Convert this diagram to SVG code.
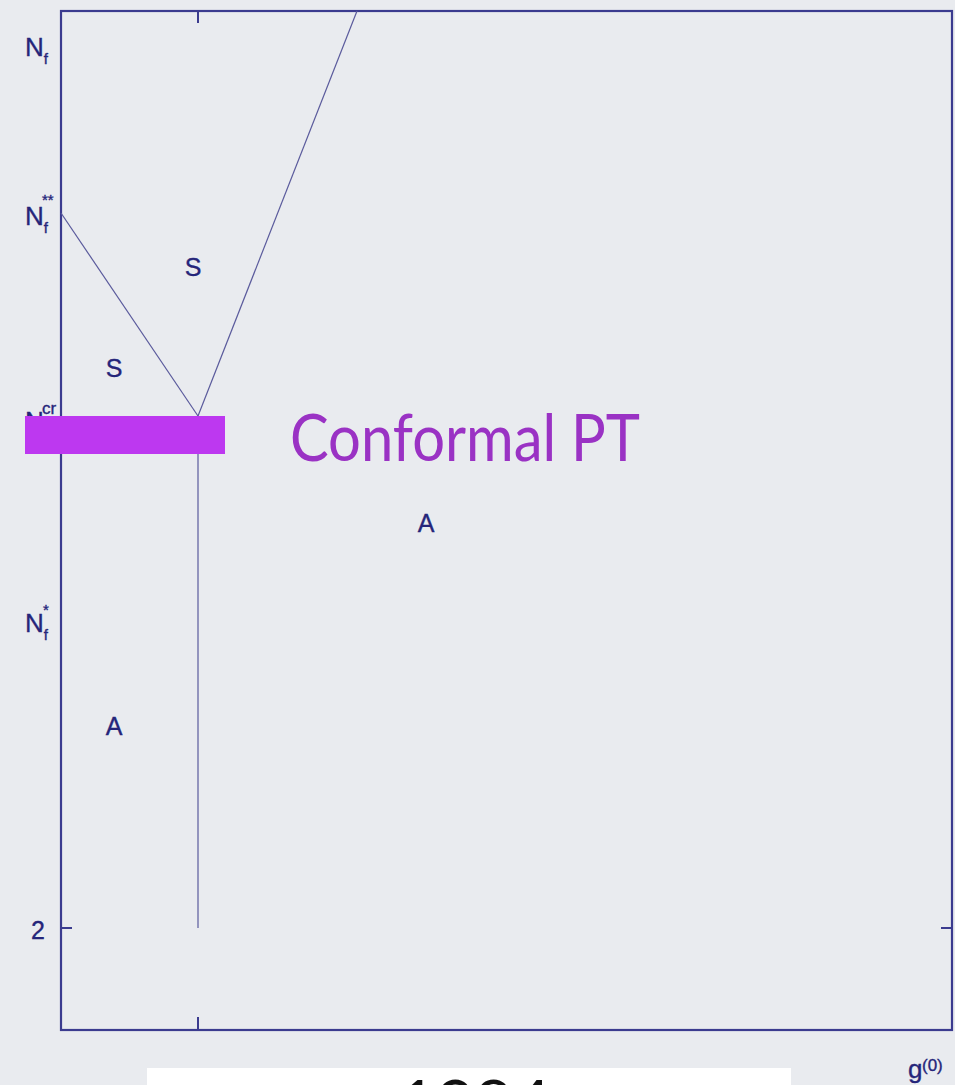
<svg xmlns="http://www.w3.org/2000/svg" width="955" height="1085" viewBox="0 0 955 1085">
  <style>
    .frame { fill: none; stroke: #3b3b8f; stroke-width: 2.2; }
    .tick { stroke: #3b3b8f; stroke-width: 2; }
    .curve { fill: none; stroke: #5a5a9c; stroke-width: 1.2; }
    .lbl { font-family: "Liberation Sans", Arial, sans-serif; fill: #25257a; stroke: #25257a; stroke-width: 0.35; }
    .region { font-size: 25px; text-anchor: middle; }
    .axis { font-size: 26px; }
    .sub { font-size: 15px; }
    .big { font-family: Lato, "Open Sans", sans-serif; }
  </style>

  <!-- background -->
  <rect x="0" y="0" width="955" height="1085" fill="#e9ebef"/>

  <!-- plot frame and ticks -->
  <g id="axes">
    <rect class="frame" x="61" y="11" width="891" height="1019"/>
    <line class="tick" x1="198" y1="11" x2="198" y2="23"/>
    <line class="tick" x1="198" y1="1030" x2="198" y2="1017"/>
    <line class="tick" x1="61" y1="928" x2="72" y2="928"/>
    <line class="tick" x1="952" y1="928" x2="941" y2="928"/>
  </g>

  <!-- phase boundaries -->
  <g id="connectors">
    <line class="curve" x1="61" y1="213" x2="198" y2="416"/>
    <line class="curve" x1="198" y1="416" x2="357" y2="11"/>
    <line class="curve" x1="198" y1="416" x2="198" y2="928"/>
  </g>

  <!-- y-axis labels -->
  <g id="ylabel-nf">
    <text class="lbl axis" x="25" y="56">N<tspan class="sub" dy="8">f</tspan></text>
  </g>
  <g id="ylabel-nf2star">
    <text class="lbl axis" x="25" y="225">N<tspan class="sub" dy="8">f</tspan></text>
    <text class="lbl sub" x="42" y="205">**</text>
  </g>
  <g id="ylabel-ncr">
    <text class="lbl axis" x="25" y="430">N</text>
    <text class="lbl sub" x="42" y="414" style="font-size:17px">cr</text>
  </g>
  <g id="ylabel-nfstar">
    <text class="lbl axis" x="25" y="632">N<tspan class="sub" dy="8">f</tspan></text>
    <text class="lbl sub" x="43" y="615">*</text>
  </g>
  <g id="ylabel-2">
    <text class="lbl axis" x="38" y="939" text-anchor="middle" style="font-size:25px">2</text>
  </g>
  <g id="xlabel-g0">
    <text class="lbl" x="908" y="1078" style="font-size:26px">g</text>
    <text class="lbl" x="922" y="1071" style="font-size:17px">(0)</text>
  </g>

  <!-- region labels -->
  <g id="region-s-upper"><text class="lbl region" x="193" y="276">S</text></g>
  <g id="region-s-lower"><text class="lbl region" x="114" y="377">S</text></g>
  <g id="region-a-right"><text class="lbl region" x="426" y="532">A</text></g>
  <g id="region-a-left"><text class="lbl region" x="114" y="735">A</text></g>

  <!-- highlight bar and annotation -->
  <g id="conformal-marker">
    <rect x="25" y="416" width="200" height="38" fill="#bd38f0"/>
  </g>
  <g id="conformal-label">
    <text class="big" x="290" y="461" font-size="66" fill="#9a32c4" textLength="350" lengthAdjust="spacingAndGlyphs">Conformal PT</text>
  </g>

  <!-- caption box at the bottom edge -->
  <g id="caption">
    <rect x="147" y="1068" width="644" height="30" fill="#ffffff"/>
    <text class="big" x="398" y="1127" font-size="66" fill="#111111">1984</text>
  </g>
</svg>
